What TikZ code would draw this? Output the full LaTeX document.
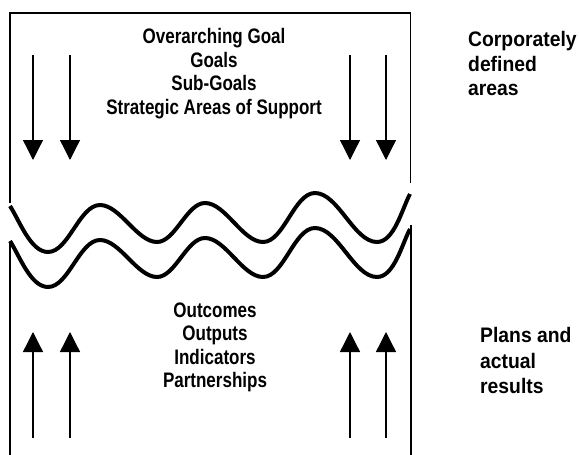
\documentclass[tikz,border=0pt]{standalone}
\usepackage{fontspec}
\setmainfont{Liberation Sans}
\newfontfamily\narrowsf{Liberation Sans}[FakeStretch=0.81]
\newfontfamily\sidesf{Liberation Sans}[FakeStretch=0.92]
\usetikzlibrary{arrows.meta}
\tikzset{
  frame/.style={line width=1.3pt},
  wave/.style={line width=4pt,looseness=0.75},
  flow/.style={line width=1.3pt,-{Triangle[length=20pt,width=20pt]}},
  midtext/.style={font=\narrowsf\bfseries\fontsize{21}{23.5}\selectfont,align=center,inner sep=0pt},
  sidetext/.style={font=\sidesf\bfseries\fontsize{21}{24.5}\selectfont,align=left,inner sep=0pt}
}
\begin{document}
\begin{tikzpicture}[x=1pt,y=1pt]
    \useasboundingbox (0,0) rectangle (579,-455);
    \draw[frame] (10,-203) -- (10,-13) -- (410.5,-13) -- (410.5,-183);
    \draw[frame] (10,-242) -- (10,-456);
    \draw[frame] (411,-225) -- (411,-456);
    \foreach \dy in {0,35}
        \draw[wave,yshift=-\dy] (10,-206) to[out=-57,in=180] (48,-252) to[out=0,in=180] (100,-205)
            to[out=0,in=180] (157,-242) to[out=0,in=180] (205,-203) to[out=0,in=180] (263,-242)
            to[out=0,in=180] (315,-193) to[out=0,in=180] (377,-242) to[out=0,in=-118] (410,-194);
    \foreach \x in {33,70,350,386} {
        \coordinate (dtop\x) at (\x,-55);
        \coordinate (dend\x) at (\x,-160);
        \draw[flow] (dtop\x) -- (dend\x);
        \coordinate (ubot\x) at (\x,-438);
        \coordinate (uend\x) at (\x,-332);
        \draw[flow] (ubot\x) -- (uend\x);
    }
    \node[midtext,anchor=north] (goals) at (214,-28.5) {Overarching Goal\\Goals\\Sub-Goals\\Strategic Areas of Support};
    \node[midtext,anchor=north] (results) at (215,-302.5) {Outcomes\\Outputs\\Indicators\\Partnerships};
    \node[sidetext,anchor=north west] (corpnote) at (468,-31.5) {Corporately\\defined\\areas};
    \node[sidetext,anchor=north west,font=\sidesf\bfseries\fontsize{21}{25.5}\selectfont] (plannote) at (480,-327.5) {Plans and\\actual\\results};
\end{tikzpicture}
\end{document}
